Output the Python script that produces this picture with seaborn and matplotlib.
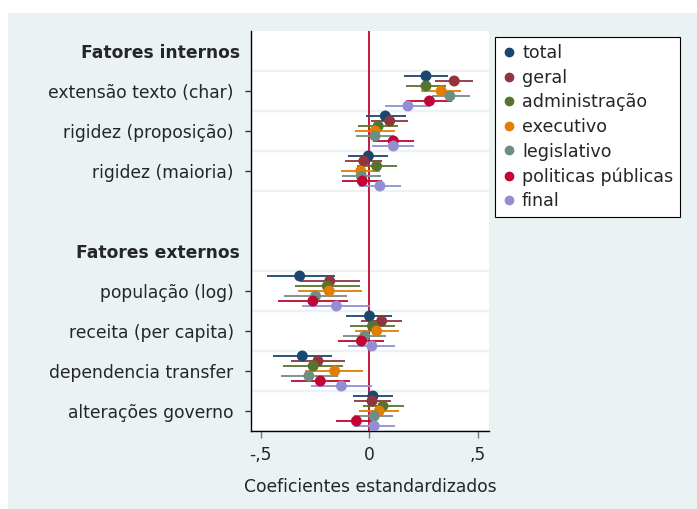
import numpy as np
import pandas as pd
import seaborn as sns
import matplotlib.pyplot as plt
from matplotlib.lines import Line2D
from matplotlib.patches import Rectangle

# variables and groups
variables = ["extensão texto (char)", "rigidez (proposição)", "rigidez (maioria)",
             "população (log)", "receita (per capita)", "dependencia transfer",
             "alterações governo"]
groups = [("Fatores internos", variables[:3]), ("Fatores externos", variables[3:])]

series = ["total", "geral", "administração", "executivo", "legislativo",
          "politicas públicas", "final"]
colors = ["#1A476F", "#90353B", "#55752F", "#E37E00", "#6E8E84", "#C10534", "#938DD2"]

# coefficients and confidence intervals, one list per model
b_total = [0.26, 0.073, -0.005, -0.321, 0.0, -0.309, 0.016]
lo_total = [0.16, -0.017, -0.098, -0.473, -0.106, -0.445, -0.078]
hi_total = [0.36, 0.166, 0.087, -0.160, 0.104, -0.171, 0.107]

b_geral = [0.39, 0.093, -0.026, -0.183, 0.056, -0.237, 0.012]
lo_geral = [0.30, 0.009, -0.112, -0.321, -0.040, -0.361, -0.070]
hi_geral = [0.476, 0.177, 0.059, -0.045, 0.152, -0.112, 0.101]

b_admin = [0.26, 0.040, 0.033, -0.194, 0.014, -0.259, 0.062]
lo_admin = [0.166, -0.053, -0.059, -0.344, -0.088, -0.397, -0.031]
hi_admin = [0.353, 0.132, 0.126, -0.043, 0.119, -0.122, 0.157]

b_exec = [0.33, 0.026, -0.040, -0.185, 0.033, -0.160, 0.045]
lo_exec = [0.237, -0.065, -0.129, -0.330, -0.068, -0.295, -0.047]
hi_exec = [0.42, 0.118, 0.050, -0.036, 0.135, -0.028, 0.135]

b_legis = [0.37, 0.026, -0.037, -0.248, -0.022, -0.279, 0.022]
lo_legis = [0.287, -0.062, -0.126, -0.394, -0.124, -0.409, -0.070]
hi_legis = [0.462, 0.113, 0.051, -0.104, 0.078, -0.146, 0.110]

b_polit = [0.276, 0.110, -0.033, -0.260, -0.037, -0.226, -0.060]
lo_polit = [0.17, 0.017, -0.127, -0.422, -0.143, -0.361, -0.152]
hi_polit = [0.381, 0.203, 0.059, -0.101, 0.068, -0.088, 0.031]

b_final = [0.177, 0.110, 0.048, -0.152, 0.011, -0.129, 0.022]
lo_final = [0.073, 0.014, -0.047, -0.310, -0.098, -0.270, -0.073]
hi_final = [0.279, 0.206, 0.146, 0.003, 0.118, 0.012, 0.118]

coefs = [b_total, b_geral, b_admin, b_exec, b_legis, b_polit, b_final]
lows = [lo_total, lo_geral, lo_admin, lo_exec, lo_legis, lo_polit, lo_final]
highs = [hi_total, hi_geral, hi_admin, hi_exec, hi_legis, hi_polit, hi_final]

# row layout: header, variables, blank row between groups
head_pos = {}
row_pos = {}
pos = 0
for gi, (head, vs) in enumerate(groups):
    if gi > 0:
        pos += 1  # empty row
    head_pos[head] = pos
    pos += 1
    for v in vs:
        row_pos[v] = pos
        pos += 1
n_rows = pos

rows = []
for si, s in enumerate(series):
    for vi, v in enumerate(variables):
        rows.append({"serie": s, "var": v, "coef": coefs[si][vi],
                     "lo": lows[si][vi], "hi": highs[si][vi],
                     "y": row_pos[v] + (si - 3) * 0.125})
df = pd.DataFrame(rows)

sns.set_style("white")
plt.rcParams['font.family'] = ['DejaVu Sans']
fs = 12.3

fig = plt.figure(figsize=(6.97, 5.09), dpi=100)
fig.patches.append(Rectangle((8 / 697, 0), 1, 1 - 13 / 509, transform=fig.transFigure,
                             facecolor="#EAF2F3", edgecolor="none", zorder=-10))
ax = fig.add_axes([251 / 697, 78 / 509, 238 / 697, 400 / 509])
ax.set_facecolor("white")

# grid lines between coefficient rows
for v in variables:
    for d in (-0.5, 0.5):
        ax.axhline(row_pos[v] + d, color="#EAF2F3", lw=1.6, zorder=0)

ax.axvline(0, color="#C10534", lw=1.3, zorder=1.5)

for si, s in enumerate(series):
    sub = df[df["serie"] == s]
    ax.hlines(sub["y"], sub["lo"], sub["hi"], color=colors[si], lw=1.3, zorder=2)

sns.scatterplot(data=df, x="coef", y="y", hue="serie", palette=colors,
                hue_order=series, s=62, linewidth=0, legend=False, ax=ax, zorder=3)

ax.set_xlim(-0.545, 0.55)
ax.set_ylim(n_rows - 0.5, -0.5)

ax.set_xticks([-0.5, 0, 0.5])
ax.set_xticklabels(["-,5", "0", ",5"])
ax.set_xlabel("Coeficientes estandardizados", fontsize=fs, labelpad=10)
ax.set_ylabel("")

# variable rows as major ticks, group headers as minor ticks without marks
ax.set_yticks([row_pos[v] for v in variables])
ax.set_yticklabels(variables)
ax.set_yticks(list(head_pos.values()), minor=True)
ax.set_yticklabels(list(head_pos.keys()), minor=True, fontweight="bold")

ax.tick_params(axis="y", which="major", length=4.5, width=1, pad=8, labelsize=fs,
               color="#333333", left=True)
ax.tick_params(axis="y", which="minor", length=0, pad=8, labelsize=fs, left=True)
ax.tick_params(axis="x", length=5, width=1, pad=6, labelsize=fs, color="#777777", bottom=True)

for side in ("top", "right"):
    ax.spines[side].set_visible(False)
for side in ("left", "bottom"):
    ax.spines[side].set_color("black")
    ax.spines[side].set_linewidth(1)

handles = [Line2D([], [], marker="o", linestyle="none", color=c, markersize=6) for c in colors]
leg = ax.legend(handles, series, loc="upper left", bbox_to_anchor=(495 / 697, 1 - 37 / 509),
                bbox_transform=fig.transFigure, borderaxespad=0, frameon=True,
                fancybox=False, edgecolor="black", facecolor="white", framealpha=1,
                fontsize=12.6, handletextpad=0.35, labelspacing=0.38,
                handlelength=0.8, borderpad=0.4)
leg.get_frame().set_linewidth(0.8)

fig.savefig("out.png", dpi=100, facecolor="white")
